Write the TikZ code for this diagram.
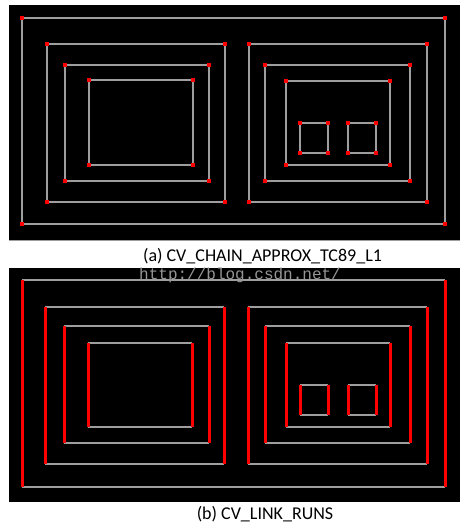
\documentclass[tikz,border=0pt]{standalone}
\usepackage{fontspec}
\setmainfont{Carlito}
\newfontfamily\wmfont{Liberation Mono}
\definecolor{lg}{RGB}{158,158,158}
\definecolor{wm}{RGB}{150,150,150}
\definecolor{rd}{RGB}{255,0,0}
\tikzset{
  gline/.style={draw=lg, line width=1.1pt},
  rline/.style={draw=rd, line width=3pt},
  panel/.style={fill=black},
  caption/.style={font=\fontsize{18}{20}\selectfont, anchor=base, inner sep=0pt},
  wmark/.style={font=\wmfont\fontsize{16}{18}\selectfont, text=wm, anchor=base west, inner sep=0pt}
}
\newcommand\rdotpt[2]{\fill[rd] (#1-1.6,#2-1.6) rectangle (#1+1.6,#2+1.6);}
\newcommand\recta[4]{%
  \draw[gline] (#1,#2) rectangle (#3,#4);
  \rdotpt{#1}{#2}\rdotpt{#3}{#2}\rdotpt{#1}{#4}\rdotpt{#3}{#4}}
\newcommand\rectb[4]{%
  \draw[gline] (#1,#2) -- (#3,#2);
  \draw[gline] (#1,#4) -- (#3,#4);
  \draw[rline] (#1,#2) -- (#1,#4);
  \draw[rline] (#3,#2) -- (#3,#4);}
\begin{document}
\begin{tikzpicture}[x=1pt,y=-1pt]
\useasboundingbox (0,0) rectangle (473,529);
% panel (a)
\fill[panel] (9,5) rectangle (460,240);
\draw[draw=lg, line width=1pt] (9,240) -- (460,240);
\recta{22}{18}{445}{224}
\recta{47}{44}{225}{202}
\recta{65}{65}{209}{181}
\recta{89}{80}{193}{165}
\recta{249}{44}{427}{202}
\recta{265}{65}{410}{181}
\recta{286}{81}{390}{165}
\recta{300}{123}{328}{153}
\recta{348}{123}{376}{153}
\node[caption] (capa) at (262.5,261) {(a) CV\_CHAIN\_APPROX\_TC89\_L1};
% panel (b)
\fill[panel] (9,268) rectangle (460,502);
\rectb{22}{280}{445}{487}
\rectb{45}{307}{224}{464}
\rectb{64}{326}{209}{443}
\rectb{88}{343}{192}{427}
\rectb{248}{307}{427}{464}
\rectb{265}{326}{410}{443}
\rectb{286}{343}{390}{427}
\rectb{300}{385}{328}{415}
\rectb{348}{385}{376}{415}
\node[wmark] (wmk) at (139,279) {http://blog.csdn.net/};
\node[caption] (capb) at (265,519) {(b) CV\_LINK\_RUNS};
\end{tikzpicture}
\end{document}
